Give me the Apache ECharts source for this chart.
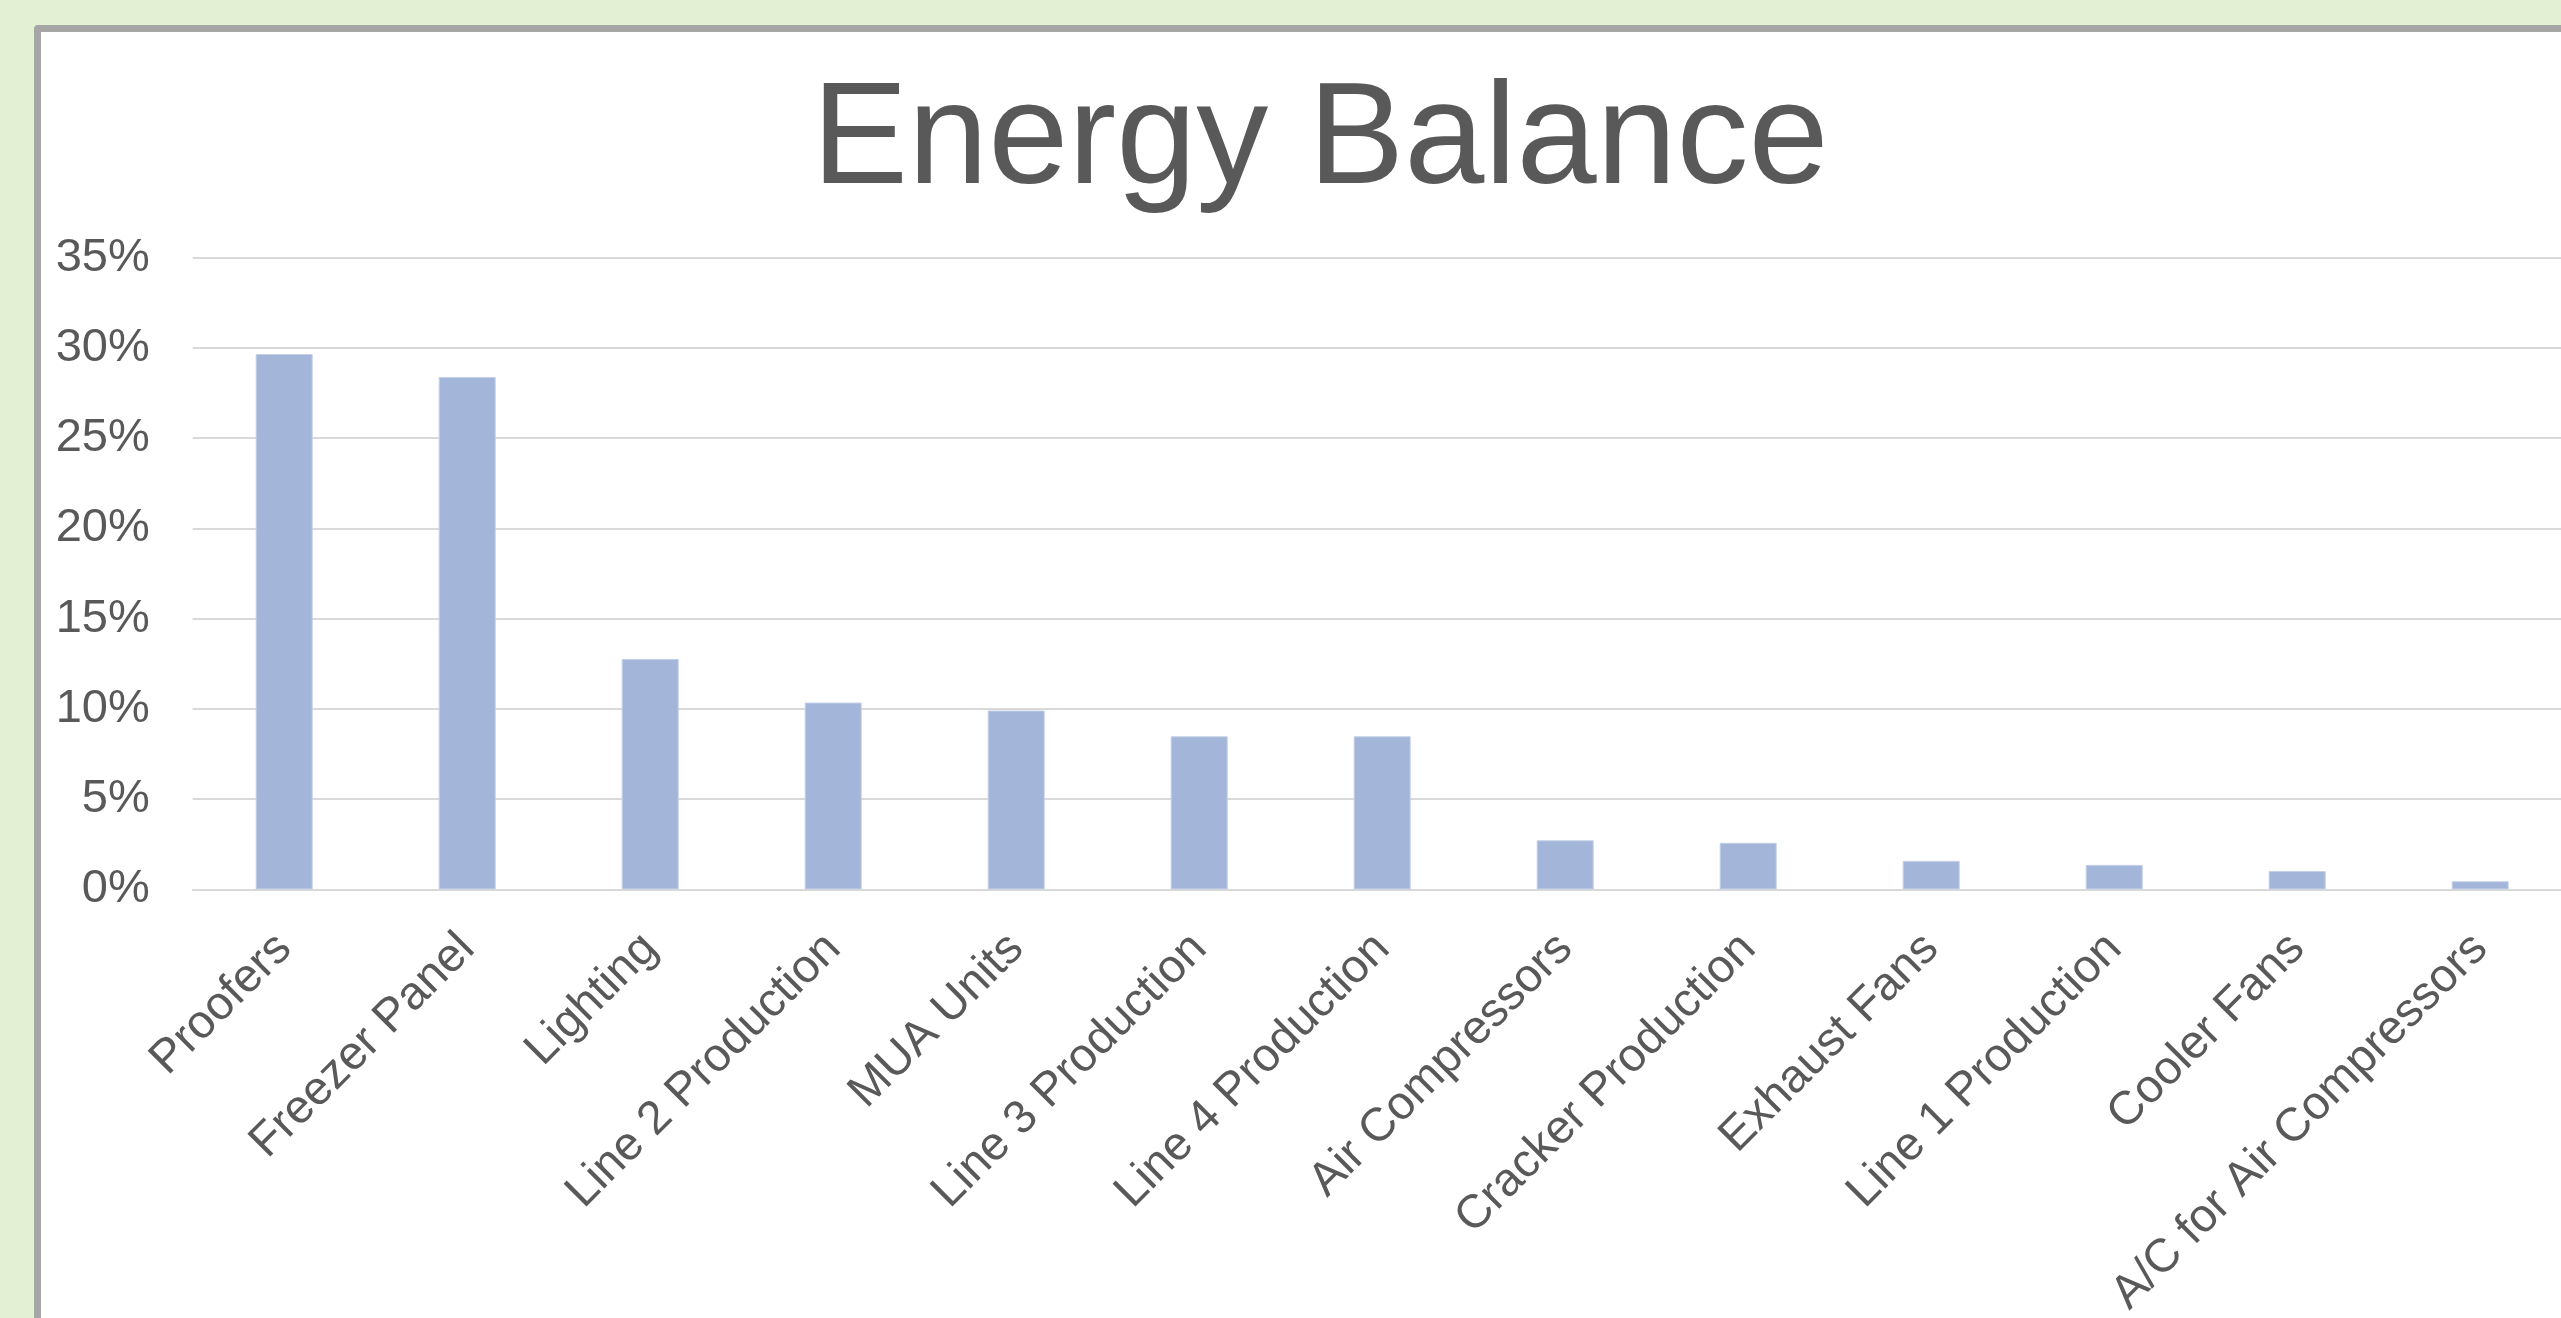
<!DOCTYPE html>
<html>
<head>
<meta charset="utf-8">
<script src="https://cdn.jsdelivr.net/npm/echarts@6/dist/echarts.min.js"></script>
<style>
  html, body { margin: 0; padding: 0; width: 2561px; height: 1318px; overflow: hidden; background: #E3F0D3; }
  #box { position: absolute; left: 34px; top: 25px; width: 2600px; height: 1350px; border: 7px solid #A6A6A6; border-radius: 4px; background: #FFFFFF; }
  #chart { width: 2600px; height: 1350px; }
</style>
</head>
<body>
<div id="box"><div id="chart"></div></div>
<script>
const titleText = 'Energy Balance';
const categories = ['Proofers', 'Freezer Panel', 'Lighting', 'Line 2 Production', 'MUA Units', 'Line 3 Production', 'Line 4 Production', 'Air Compressors', 'Cracker Production', 'Exhaust Fans', 'Line 1 Production', 'Cooler Fans', 'A/C for Air Compressors'];
const shares = [29.66, 28.39, 12.76, 10.35, 9.91, 8.48, 8.48, 2.72, 2.58, 1.58, 1.36, 1.02, 0.45];
const yTicks = { min: 0, max: 35, interval: 5 };

const font = '"Liberation Sans", Arial, sans-serif';
const chart = echarts.init(document.getElementById('chart'), null, { renderer: 'canvas' });
chart.setOption({
  animation: false,
  backgroundColor: '#FFFFFF',
  title: {
    text: titleText,
    left: 771,
    top: 39,
    padding: 0,
    textStyle: { fontFamily: font, fontSize: 144, fontWeight: 'normal', color: '#595959' }
  },
  grid: { left: 151.7, top: 225.6, width: 2379, height: 631.8, containLabel: false },
  xAxis: {
    type: 'category',
    data: categories,
    boundaryGap: true,
    axisTick: { show: false },
    axisLine: { show: true, lineStyle: { color: '#D9D9D9', width: 2 } },
    axisLabel: { rotate: 45, margin: 52, interval: 0, fontFamily: font, fontSize: 47, color: '#595959' }
  },
  yAxis: {
    type: 'value',
    min: yTicks.min,
    max: yTicks.max,
    interval: yTicks.interval,
    axisLine: { show: false },
    axisTick: { show: false },
    splitLine: { show: true, lineStyle: { color: '#D9D9D9', width: 2 } },
    axisLabel: { formatter: '{value}%', margin: 43, padding: [6, 0, 0, 0], fontFamily: font, fontSize: 47, color: '#595959' }
  },
  series: [{
    type: 'bar',
    data: shares,
    barWidth: 57,
    itemStyle: { color: '#A3B6D9', borderColor: '#C2CFE6', borderWidth: 1 }
  }]
});
</script>
</body>
</html>
